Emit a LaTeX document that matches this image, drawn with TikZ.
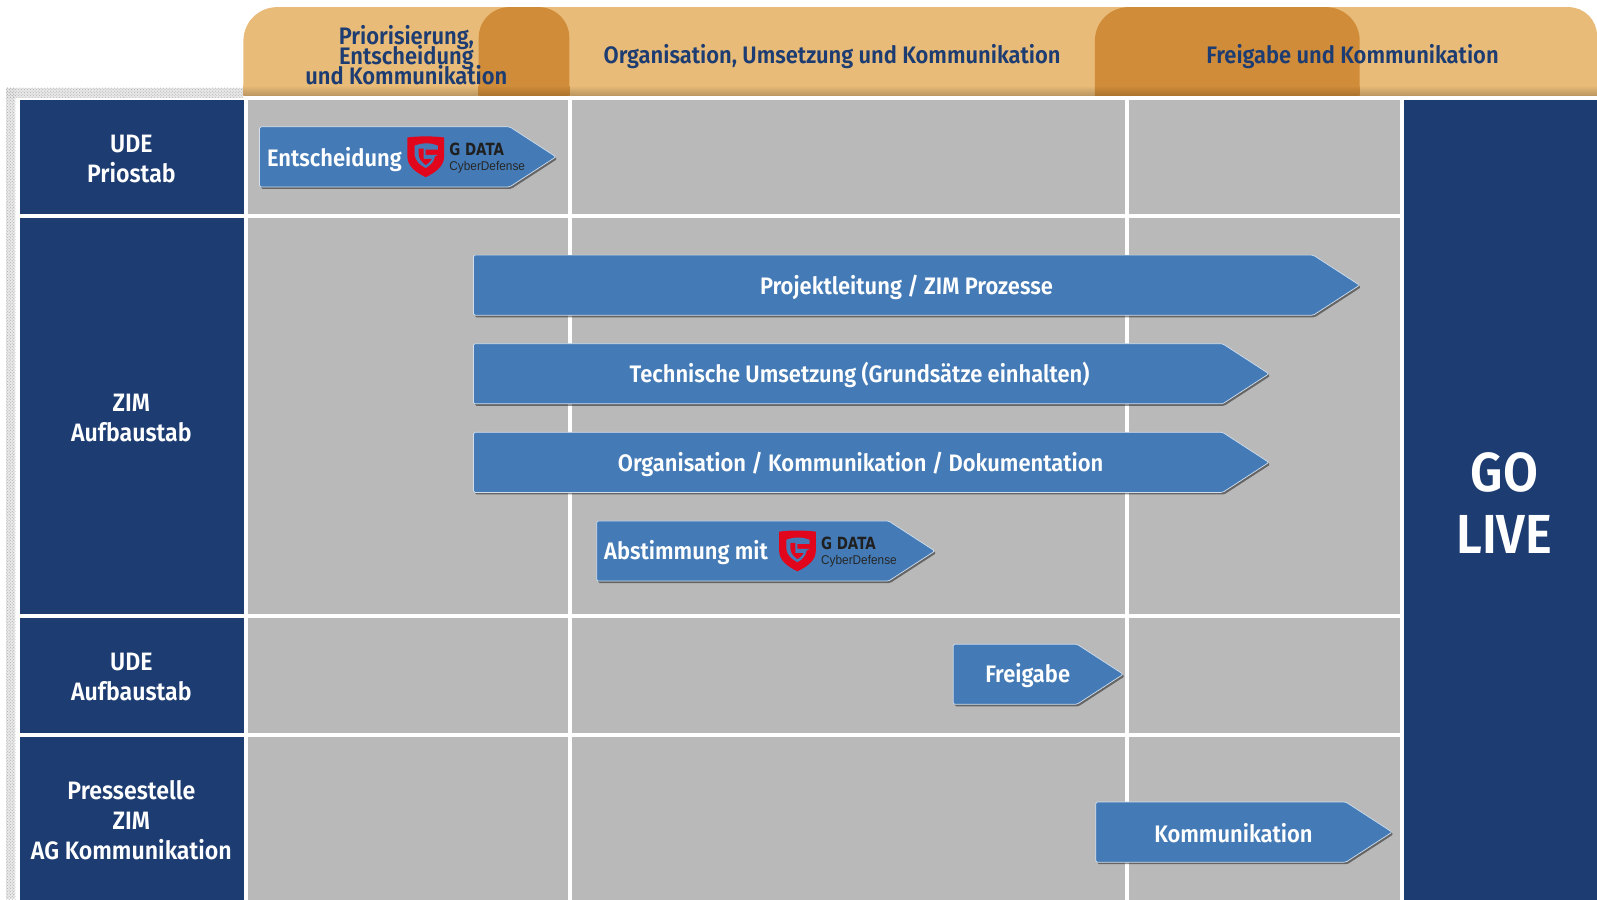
\documentclass[tikz,border=0pt]{standalone}
\usepackage{fontspec}
\setmainfont[FakeStretch=0.92,BoldFont={Fira Sans SemiBold}]{Fira Sans}
\newfontfamily\logofont[FakeStretch=0.8]{DejaVu Sans}
\newfontfamily\claimfont[FakeStretch=0.93]{Liberation Sans}
\usetikzlibrary{positioning,shapes.symbols,shadows,patterns}
\definecolor{navy}{HTML}{1C3C72}
\definecolor{cellgray}{HTML}{B9B9B9}
\definecolor{barblue}{HTML}{447BB7}
\definecolor{headlight}{HTML}{E8BB78}
\definecolor{headdark}{HTML}{D08C39}
\definecolor{shieldred}{HTML}{E2061C}
\tikzset{
  gdata/.pic={
    \fill[shieldred] (0,1) .. controls (12,-0.5) and (24,-0.5) .. (36,1) -- (36,20)
      .. controls (36,30) and (26,36) .. (18,40) .. controls (10,36) and (0,30) .. (0,20) -- cycle;
    \fill[barblue] (7,9) .. controls (15,6) and (23,6) .. (30,9) -- (30,13) -- (18,13) -- (18,18) -- (30,18) -- (27,19.5)
      .. controls (26,25) and (23,28) .. (18,31) .. controls (12,28) and (8,24) .. (7,18) -- cycle;
    \fill[shieldred] (11,12) -- (16,12) -- (16,22) -- (24,22) .. controls (23,24) and (21,26) .. (18,28) .. controls (14,25) and (11,22) .. (11,17) -- cycle;
    \node[anchor=west, inner sep=0pt, font=\logofont\bfseries\fontsize{16.5}{17}\selectfont, text=black!88] (-name) at (41,12.5) {G DATA};
    \node[anchor=west, inner sep=0pt, font=\claimfont\fontsize{12.5}{13}\selectfont, text=black!85] (-claim) at (41,30.5) {CyberDefense};
  }
}
\begin{document}
\begin{tikzpicture}[
x=1pt, y=-1pt,
cell/.style={rectangle, anchor=north west, inner sep=0pt, fill=cellgray},
rowhead/.style={rectangle, anchor=north west, inner sep=0pt, fill=navy},
rowtext/.style={text=white, align=center, inner sep=0pt, font=\bfseries\fontsize{24.7}{29.6}\selectfont},
headtext/.style={text=navy, align=center, inner sep=0pt, font=\bfseries\fontsize{23.4}{24}\selectfont},
bartext/.style={text=white, inner sep=0pt, font=\bfseries\fontsize{23.4}{28}\selectfont},
banner/.style={signal, signal to=east, signal pointer angle=66, anchor=west, inner sep=0pt,
  minimum height=59pt, fill=barblue, draw=white!75!barblue, line width=.7pt, rounded corners=1.5pt,
  drop shadow={shadow xshift=1.5pt, shadow yshift=-2pt, fill=black, opacity=.45}}
]
\useasboundingbox (0,0) rectangle (1568,883);
% halftone frame
\fill[gray!18] (6,86) rectangle (239,96);
\fill[gray!18] (6,86) rectangle (15,883);
\fill[pattern=crosshatch dots, pattern color=gray!65] (6,86) rectangle (239,96);
\fill[pattern=crosshatch dots, pattern color=gray!65] (6,86) rectangle (15,883);
% phases on top
\path[fill=headlight] (239,94) -- (239,40) arc[start angle=180, end angle=270, radius=33] -- (1540,7) arc[start angle=270, end angle=360, radius=28] -- (1568,94) -- cycle;
\path[fill=headdark] (470,94) -- (470,37) arc[start angle=180, end angle=270, radius=30] -- (529,7) arc[start angle=270, end angle=360, radius=30] -- (559,94) -- cycle;
\path[fill=headdark] (1075,94) -- (1075,40) arc[start angle=180, end angle=270, radius=33] -- (1302,7) arc[start angle=270, end angle=360, radius=33] -- (1335,94) -- cycle;
\shade[top color=headlight, bottom color=headlight!80!black] (239,84) rectangle (1568,94);
\shade[top color=headdark, bottom color=headdark!82!black] (470,84) rectangle (559,94);
\shade[top color=headdark, bottom color=headdark!82!black] (1075,84) rectangle (1335,94);
\node[headtext] (phase1) at (399,54) {Priorisierung,\\[-4pt]Entscheidung\\[-4pt]und Kommunikation};
\node[headtext] (phase2) at (817,56) {Organisation, Umsetzung und Kommunikation};
\node[headtext] (phase3) at (1328,56) {Freigabe und Kommunikation};
% grid
\foreach \y/\h/\r in {98/112/a, 214/389/b, 607/112/c, 723/160/d}
  \foreach \x/\w/\c in {243/314/1, 561/543/2, 1108/266/3}
    \node[cell, minimum width=\w pt, minimum height=\h pt] (cell\r\c) at (\x,\y) {};
\foreach \y/\h/\r in {98/112/a, 214/389/b, 607/112/c, 723/160/d}
  \node[rowhead, minimum width=220pt, minimum height=\h pt] (row\r) at (19,\y) {};
\node[rowtext] (rowatext) at (129,156.5) {UDE\\Priostab};
\node[rowtext] (rowbtext) at (129,410) {ZIM\\Aufbaustab};
\node[rowtext] (rowctext) at (129,664.5) {UDE\\Aufbaustab};
\node[rowtext] (rowdtext) at (129,805.5) {Pressestelle\\ZIM\\AG Kommunikation};
\node[rowhead, minimum width=190pt, minimum height=785pt] (golive) at (1378,98) {};
\node[text=white, align=center, inner sep=0pt, font=\bfseries\fontsize{54}{61}\selectfont] (golivetext) at (1477,494) {GO\\LIVE};
% bars
\node[banner, minimum width=291pt] (entscheid) at (254.5,154) {};
\node[bartext, anchor=west] (entscheidtext) at (262,156.5) {Entscheidung};
\pic (logoa) at (400,134) {gdata};
\node[banner, minimum width=870pt] (projekt) at (464.5,280) {};
\node[bartext] (projekttext) at (890,282.5) {Projektleitung / ZIM Prozesse};
\node[banner, minimum width=781pt] (technik) at (464.5,367) {};
\node[bartext] (techniktext) at (844,368.5) {Technische Umsetzung (Grundsätze einhalten)};
\node[banner, minimum width=781pt] (orga) at (464.5,454) {};
\node[bartext] (orgatext) at (845,455.5) {Organisation / Kommunikation / Dokumentation};
\node[banner, minimum width=332pt] (abstimm) at (585.5,541) {};
\node[bartext, anchor=west] (abstimmtext) at (593,542.5) {Abstimmung mit};
\pic (logob) at (765,521) {gdata};
\node[banner, minimum width=167pt] (freigabe) at (935.5,662) {};
\node[bartext] (freigabetext) at (1009,663.5) {Freigabe};
\node[banner, minimum width=291pt] (komm) at (1075.5,817) {};
\node[bartext] (kommtext) at (1211,818) {Kommunikation};
\end{tikzpicture}
\end{document}
